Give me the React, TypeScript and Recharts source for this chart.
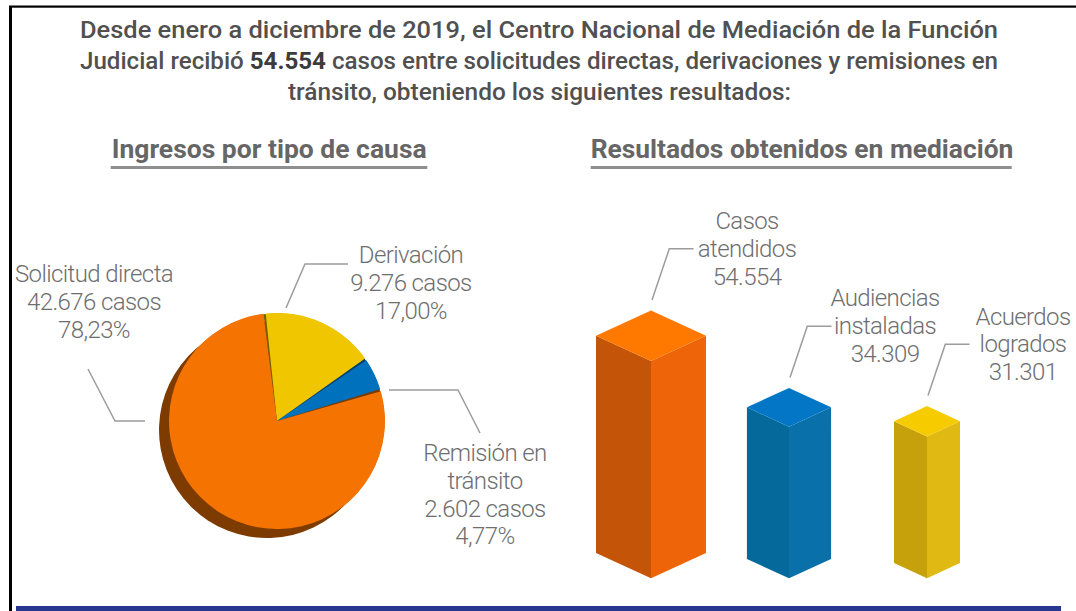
import React from 'react';
import { PieChart, Pie, Cell, BarChart, Bar, XAxis, YAxis } from 'recharts';

// ================= DATA =================
const titleLine1 = 'Desde enero a diciembre de 2019, el Centro Nacional de Mediación de la Función';
const titleLine2Before = 'Judicial recibió ';
const titleTotal = 54554;
const titleLine2After = ' casos entre solicitudes directas, derivaciones y remisiones en';
const titleLine3 = 'tránsito, obteniendo los siguientes resultados:';

const sectionTitles = ['Ingresos por tipo de causa', 'Resultados obtenidos en mediación'];

const pieCategories = ['Derivación', 'Remisión en\ntránsito', 'Solicitud directa'];
const pieValues = [9276, 2602, 42676];

const barCategories = ['Casos\natendidos', 'Audiencias\ninstaladas', 'Acuerdos\nlogrados'];
const barValues = [54554, 34309, 31301];

const pieData = pieCategories.map((name, i) => ({ name, value: pieValues[i] }));
const barData = barCategories.map((name, i) => ({ name, value: barValues[i] }));

// ================= STYLE / LAYOUT =================
const W = 1076;
const H = 611;
const FONT = 'Roboto, "Open Sans", "Liberation Sans", sans-serif';

const PIE_COLORS = ['#EFC600', '#0071BC', '#F57300'];
const PIE_EDGE_COLORS = ['#6F6200', '#00416F', '#7A3A00'];
const PIE_SHADOW = '#7E3B00';
const PIE_CX = 277;
const PIE_CY = 421;
const PIE_R = 108;
const PIE_START = 96;
const PIE_PAD = 1.2;

// leader points and text anchors relative to pie centre
const PIE_LABEL_LAYOUT = [
  { leader: [[9, -113], [28, -157], [71, -157]], tx: 134, ty: -158 },
  { leader: [[112, -31], [181, -31], [203, 12]], tx: 208, ty: 40 },
  { leader: [[-189, -52], [-162, 0], [-132, 0]], tx: -183, ty: -139 },
];
const LABEL_LINE_H = 27.8;

const BAR_FACES = [
  { top: '#FF7800', left: '#C45407', right: '#EE6509' },
  { top: '#0476C6', left: '#056A9B', right: '#0A70AA' },
  { top: '#F6CB00', left: '#C7A10B', right: '#E0BA13' },
];
const BAR_WIDTH_FACTOR = [1, 0.765, 0.6];
const BAR_CHART = { left: 560, top: 180, width: 516, height: 420 };
const BAR_MARGIN = { top: 163.4, right: 80, bottom: 21.7, left: 22 };

const labelStyle: React.CSSProperties = {
  fontFamily: FONT,
  fontSize: 24,
  fontWeight: 300,
  fill: '#6E6E6E',
  letterSpacing: -0.6,
};

const fmtThousands = (n: number) => String(Math.round(n)).replace(/\B(?=(\d{3})+(?!\d))/g, '.');
const fmtPct = (p: number) => (p * 100).toFixed(2).replace('.', ',') + '%';

const pieTotal = pieValues.reduce((a, b) => a + b, 0);

const renderPieLabel = (props: any) => {
  const index: number = props.index;
  const L = PIE_LABEL_LAYOUT[index];
  if (!L) return null;
  const value = props.value ?? pieValues[index];
  const percent = typeof props.percent === 'number' ? props.percent : value / pieTotal;
  const pts = L.leader.map(([dx, dy]) => `${PIE_CX + dx},${PIE_CY + dy}`).join(' ');
  const lines = [...pieCategories[index].split('\n'), `${fmtThousands(value)} casos`, fmtPct(percent)];
  const tx = PIE_CX + L.tx;
  return (
    <g key={`pl-${index}`}>
      <polyline points={pts} fill="none" stroke="#9C9C9C" strokeWidth={1.5} />
      <text x={tx} y={PIE_CY + L.ty} textAnchor="middle" style={labelStyle}>
        {lines.map((t, i) => (
          <tspan key={i} x={tx} dy={i === 0 ? 0 : LABEL_LINE_H}>
            {t}
          </tspan>
        ))}
      </text>
    </g>
  );
};

const Prism = (props: any) => {
  const { x, y, width, height, index, background } = props;
  if (x == null || y == null) return null;
  const cx = x + width / 2;
  const hw = (width / 2) * (BAR_WIDTH_FACTOR[index] ?? 1);
  const d = hw * 0.46;
  const bottom = background && background.height ? background.y + background.height : y + height;
  const top = y;
  const f = BAR_FACES[index] || BAR_FACES[0];
  const leftFace = `${cx - hw},${top - d} ${cx},${top} ${cx},${bottom} ${cx - hw},${bottom - d}`;
  const rightFace = `${cx},${top} ${cx + hw},${top - d} ${cx + hw},${bottom - d} ${cx},${bottom}`;
  const topFace = `${cx},${top} ${cx - hw},${top - d} ${cx},${top - 2 * d} ${cx + hw},${top - d}`;
  const tv = top - 2 * d;
  const elbowY = tv - 61.7;
  const leader = `${cx + 1},${tv - 10.5} ${cx + 18.3},${elbowY} ${cx + 42.5},${elbowY}`;
  const lines = [...barCategories[index].split('\n'), fmtThousands(barValues[index])];
  const tx = cx + 96;
  return (
    <g>
      <polygon points={leftFace} fill={f.left} />
      <polygon points={rightFace} fill={f.right} />
      <polygon points={topFace} fill={f.top} />
      <polyline points={leader} fill="none" stroke="#9C9C9C" strokeWidth={1.5} />
      <text x={tx} y={elbowY - 19.8} textAnchor="middle" style={labelStyle}>
        {lines.map((t, i) => (
          <tspan key={i} x={tx} dy={i === 0 ? 0 : LABEL_LINE_H}>
            {t}
          </tspan>
        ))}
      </text>
    </g>
  );
};

export default function App() {
  return (
    <div style={{ position: 'absolute', left: 0, top: 0, width: W, height: H, background: '#fff', overflow: 'hidden' }}>
      <svg width={W} height={H} style={{ position: 'absolute', left: 0, top: 0 }}>
        {/* frame */}
        <rect x={9} y={6} width={3} height={H - 6} fill="#000" />
        <rect x={9} y={5.5} width={W - 9} height={2.2} fill="#000" />
        {/* title */}
        <g style={{ fontFamily: FONT, fontSize: 24, fontWeight: 500, fill: '#505050' }}>
          <text x={80} y={38} textLength={918} lengthAdjust="spacingAndGlyphs">
            {titleLine1}
          </text>
          <text x={80} y={69} textLength={918} lengthAdjust="spacingAndGlyphs">
            {titleLine2Before}
            <tspan style={{ fontWeight: 700, fill: '#3c3c3c' }}>{fmtThousands(titleTotal)}</tspan>
            {titleLine2After}
          </text>
          <text x={539.5} y={100} textAnchor="middle" textLength={503} lengthAdjust="spacingAndGlyphs">
            {titleLine3}
          </text>
        </g>
        {/* section headings */}
        <g style={{ fontFamily: FONT, fontSize: 25.5, fontWeight: 700, fill: '#666' }}>
          <text x={111.7} y={158.3} textLength={315} lengthAdjust="spacingAndGlyphs">
            {sectionTitles[0]}
          </text>
          <text x={590.7} y={158.3} textLength={422.6} lengthAdjust="spacingAndGlyphs">
            {sectionTitles[1]}
          </text>
        </g>
        <rect x={110.7} y={166} width={316.6} height={3} fill="#8E8E8E" />
        <rect x={590.7} y={166} width={421} height={3} fill="#8E8E8E" />
        {/* bottom rule */}
        <rect x={16} y={606} width={1045} height={5} fill="#27368E" />
      </svg>

      <div style={{ position: 'absolute', left: 0, top: 0 }}>
        <PieChart width={560} height={H} margin={{ top: 0, right: 0, bottom: 0, left: 0 }}>
          <Pie
            data={pieData}
            dataKey="value"
            nameKey="name"
            cx={PIE_CX - 10}
            cy={PIE_CY + 9}
            outerRadius={PIE_R}
            startAngle={PIE_START}
            endAngle={PIE_START - 360}
            stroke="none"
            isAnimationActive={false}
            label={false}
            labelLine={false}
          >
            {pieData.map((_, i) => (
              <Cell key={i} fill={PIE_SHADOW} stroke="none" />
            ))}
          </Pie>
          <Pie
            data={pieData}
            dataKey="value"
            nameKey="name"
            cx={PIE_CX}
            cy={PIE_CY}
            outerRadius={PIE_R - 0.5}
            startAngle={PIE_START + PIE_PAD}
            endAngle={PIE_START + PIE_PAD - 360}
            stroke="none"
            isAnimationActive={false}
            label={false}
            labelLine={false}
          >
            {pieData.map((_, i) => (
              <Cell key={i} fill={PIE_EDGE_COLORS[i]} stroke="none" />
            ))}
          </Pie>
          <Pie
            data={pieData}
            dataKey="value"
            nameKey="name"
            cx={PIE_CX}
            cy={PIE_CY}
            outerRadius={PIE_R}
            startAngle={PIE_START}
            endAngle={PIE_START - 360}
            paddingAngle={PIE_PAD}
            stroke="none"
            isAnimationActive={false}
            label={renderPieLabel}
            labelLine={false}
          >
            {pieData.map((_, i) => (
              <Cell key={i} fill={PIE_COLORS[i]} stroke="none" />
            ))}
          </Pie>
        </PieChart>
      </div>

      <div style={{ position: 'absolute', left: BAR_CHART.left, top: BAR_CHART.top }}>
        <BarChart width={BAR_CHART.width} height={BAR_CHART.height} data={barData} margin={BAR_MARGIN}>
          <XAxis dataKey="name" type="category" hide />
          <YAxis type="number" domain={[-12500, 60000]} hide />
          <Bar dataKey="value" barSize={110} isAnimationActive={false} shape={(p: any) => <Prism {...p} />} />
        </BarChart>
      </div>
    </div>
  );
}
